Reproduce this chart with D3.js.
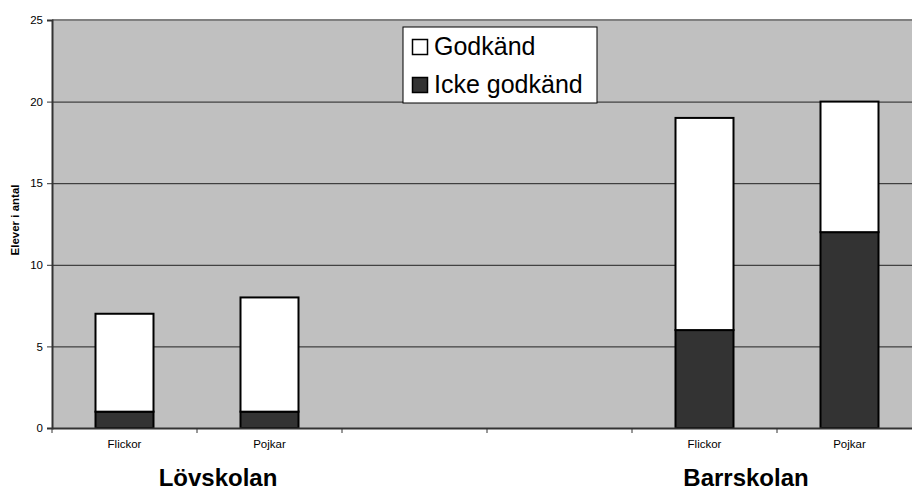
<!DOCTYPE html>
<html>
<head>
<meta charset="utf-8">
<script src="https://cdn.jsdelivr.net/npm/d3@7"></script>
<style>
  body { margin: 0; background: #fff; }
  text { font-family: Arial, "Liberation Sans", sans-serif; }
</style>
</head>
<body>
<svg></svg>
<script>
var width = 912,
  height = 491;

// data
var categories = ["Flickor", "Pojkar", "", "", "Flickor", "Pojkar"];
var ickeGodkand = [1, 1, 0, 0, 6, 12];
var godkand = [6, 7, 0, 0, 13, 8];
var yTicks = [0, 5, 10, 15, 20, 25];
var schools = [{ name: "Lövskolan", x: 218 }, { name: "Barrskolan", x: 746 }];
var seriesNames = ["Godkänd", "Icke godkänd"];

var margin = { left: 52, top: 20, bottom: 428 };

var svg = d3.select("svg")
  .attr("width", width)
  .attr("height", height);

var x = d3.scaleBand()
  .domain(d3.range(categories.length))
  .range([margin.left, margin.left + 145 * categories.length]);

var y = d3.scaleLinear()
  .domain([0, 25])
  .range([margin.bottom, margin.top]);

// plot area
svg.append("rect")
  .attr("x", margin.left)
  .attr("y", margin.top)
  .attr("width", x.range()[1] - margin.left)
  .attr("height", margin.bottom - margin.top)
  .attr("fill", "#c0c0c0");

svg.append("line")
  .attr("x1", margin.left).attr("x2", width)
  .attr("y1", margin.top).attr("y2", margin.top)
  .attr("stroke", "#808080").attr("stroke-width", 2);

// gridlines
svg.append("g")
  .selectAll("line")
  .data(yTicks.filter(function (d) { return d > 0 && d < 25; }))
  .enter().append("line")
  .attr("x1", margin.left).attr("x2", width)
  .attr("y1", function (d) { return y(d) + 0.5; })
  .attr("y2", function (d) { return y(d) + 0.5; })
  .attr("stroke", "#222").attr("stroke-width", 1);

// bars
var barW = x.bandwidth() * 0.4;
var bars = svg.append("g");
categories.forEach(function (c, i) {
  if (ickeGodkand[i] + godkand[i] == 0) return;
  var bx = x(i) + (x.bandwidth() - barW) / 2;
  bars.append("rect")
    .attr("x", bx)
    .attr("y", y(ickeGodkand[i]))
    .attr("width", barW)
    .attr("height", y(0) - y(ickeGodkand[i]))
    .attr("fill", "#333333")
    .attr("stroke", "#000").attr("stroke-width", 2);
  bars.append("rect")
    .attr("x", bx)
    .attr("y", y(ickeGodkand[i] + godkand[i]))
    .attr("width", barW)
    .attr("height", y(ickeGodkand[i]) - y(ickeGodkand[i] + godkand[i]))
    .attr("fill", "#ffffff")
    .attr("stroke", "#000").attr("stroke-width", 2);
});

// y axis
var yAxis = svg.append("g")
  .attr("transform", "translate(" + margin.left + ",0)")
  .call(d3.axisLeft(y).tickValues(yTicks).tickSize(5).tickPadding(4));
yAxis.select(".domain").attr("stroke", "#333").attr("stroke-width", 2);
yAxis.selectAll(".tick line").attr("stroke", "#333");
yAxis.selectAll("text").attr("font-size", 11.5).attr("fill", "#000")
  .style("font-family", "Arial, 'Liberation Sans', sans-serif");

// x axis
var xAxis = svg.append("g")
  .attr("transform", "translate(0," + margin.bottom + ")")
  .call(d3.axisBottom(x).tickFormat(function (i) { return categories[i]; })
    .tickSize(0).tickPadding(12));
xAxis.select(".domain").attr("stroke", "#333").attr("stroke-width", 2);
xAxis.selectAll("text").attr("font-size", 11.5).attr("fill", "#000")
  .style("font-family", "Arial, 'Liberation Sans', sans-serif");

// category boundary ticks
svg.append("g")
  .selectAll("line")
  .data(d3.range(categories.length + 1))
  .enter().append("line")
  .attr("x1", function (i) { return margin.left + i * x.bandwidth(); })
  .attr("x2", function (i) { return margin.left + i * x.bandwidth(); })
  .attr("y1", margin.bottom)
  .attr("y2", margin.bottom + 5)
  .attr("stroke", "#333");

// school labels
svg.append("g")
  .selectAll("text")
  .data(schools)
  .enter().append("text")
  .attr("x", function (d) { return d.x; })
  .attr("y", 486)
  .attr("text-anchor", "middle")
  .attr("font-size", 24)
  .attr("font-weight", "bold")
  .text(function (d) { return d.name; });

// y label
svg.append("text")
  .attr("transform", "translate(19,220) rotate(-90)")
  .attr("text-anchor", "middle")
  .attr("font-size", 11.5)
  .attr("font-weight", "bold")
  .text("Elever i antal");

// legend
var legend = svg.append("g").attr("transform", "translate(403,27)");
legend.append("rect")
  .attr("width", 194).attr("height", 76)
  .attr("fill", "#fff").attr("stroke", "#000").attr("stroke-width", 1);
var legendFill = ["#ffffff", "#333333"];
seriesNames.forEach(function (s, i) {
  legend.append("rect")
    .attr("x", 9.5).attr("y", 12.5 + i * 38)
    .attr("width", 15).attr("height", 15)
    .attr("fill", legendFill[i]).attr("stroke", "#000").attr("stroke-width", 1.5);
  legend.append("text")
    .attr("x", 31).attr("y", 28 + i * 38)
    .attr("font-size", 25)
    .text(s);
});
</script>
</body>
</html>
